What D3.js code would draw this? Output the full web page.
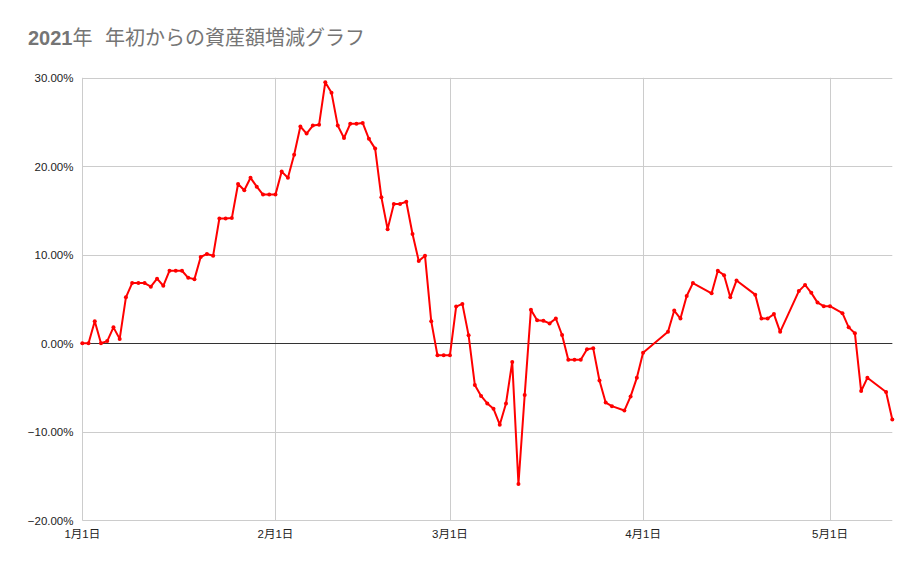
<!DOCTYPE html>
<html>
<head>
<meta charset="utf-8">
<script src="https://cdn.jsdelivr.net/npm/d3@7"></script>
<style>
  html, body { margin: 0; padding: 0; background: #fff; }
  svg { display: block; }
</style>
</head>
<body>
<svg id="chart" width="921" height="569"></svg>
<script>
// ---- data ----
const dates = [
  "2021-01-01","2021-01-02","2021-01-03","2021-01-04","2021-01-05","2021-01-06","2021-01-07","2021-01-08",
  "2021-01-09","2021-01-10","2021-01-11","2021-01-12","2021-01-13","2021-01-14","2021-01-15","2021-01-16",
  "2021-01-17","2021-01-18","2021-01-19","2021-01-20","2021-01-21","2021-01-22","2021-01-23","2021-01-24",
  "2021-01-25","2021-01-26","2021-01-27","2021-01-28","2021-01-29","2021-01-30","2021-01-31",
  "2021-02-01","2021-02-02","2021-02-03","2021-02-04","2021-02-05","2021-02-06","2021-02-07","2021-02-08",
  "2021-02-09","2021-02-10","2021-02-11","2021-02-12","2021-02-13","2021-02-14","2021-02-15","2021-02-16",
  "2021-02-17","2021-02-18","2021-02-19","2021-02-20","2021-02-21","2021-02-22","2021-02-23","2021-02-24",
  "2021-02-25","2021-02-26","2021-02-27","2021-02-28",
  "2021-03-01","2021-03-02","2021-03-03","2021-03-04","2021-03-05","2021-03-06","2021-03-07","2021-03-08",
  "2021-03-09","2021-03-10","2021-03-11","2021-03-12","2021-03-13","2021-03-14","2021-03-15","2021-03-16",
  "2021-03-17","2021-03-18","2021-03-19","2021-03-20","2021-03-21","2021-03-22","2021-03-23","2021-03-24",
  "2021-03-25","2021-03-26","2021-03-27","2021-03-29","2021-03-30","2021-03-31",
  "2021-04-01","2021-04-05","2021-04-06","2021-04-07","2021-04-08","2021-04-09","2021-04-12","2021-04-13",
  "2021-04-14","2021-04-15","2021-04-16","2021-04-19","2021-04-20","2021-04-21","2021-04-22","2021-04-23",
  "2021-04-26","2021-04-27","2021-04-28","2021-04-29","2021-04-30",
  "2021-05-01","2021-05-03","2021-05-04","2021-05-05","2021-05-06","2021-05-07","2021-05-10","2021-05-11"
];
const changePct = [
  0.0, 0.0, 2.5, 0.0, 0.25, 1.8, 0.5, 5.2,
  6.8, 6.8, 6.8, 6.4, 7.3, 6.5, 8.2, 8.2,
  8.2, 7.4, 7.25, 9.75, 10.1, 9.9, 14.1, 14.1,
  14.15, 18.0, 17.3, 18.7, 17.7, 16.8, 16.8,
  16.8, 19.4, 18.7, 21.3, 24.5, 23.7, 24.6, 24.7,
  29.5, 28.3, 24.6, 23.2, 24.8, 24.8, 24.9, 23.1,
  22.0, 16.5, 12.9, 15.75, 15.75, 16.0, 12.35, 9.3,
  9.9, 2.5, -1.36, -1.36,
  -1.36, 4.15, 4.45, 0.9, -4.7, -5.95, -6.8, -7.4,
  -9.2, -6.8, -2.1, -15.9, -5.85, 3.8, 2.6, 2.55,
  2.25, 2.8, 0.94, -1.85, -1.85, -1.85, -0.68, -0.57,
  -4.2, -6.7, -7.1, -7.6, -6.0, -3.9,
  -1.06, 1.3, 3.7, 2.8, 5.35, 6.8, 5.65, 8.2,
  7.7, 5.2, 7.1, 5.5, 2.8, 2.8, 3.3, 1.3,
  5.9, 6.6, 5.7, 4.6, 4.2,
  4.2, 3.4, 1.8, 1.13, -5.4, -3.9, -5.5, -8.6
];
const xTickDates = ["2021-01-01","2021-02-01","2021-03-01","2021-04-01","2021-05-01"];
const xTickLabels = ["1月1日","2月1日","3月1日","4月1日","5月1日"];
const yTicks = [-0.2, -0.1, 0, 0.1, 0.2, 0.3];
const xDomain = ["2021-01-01","2021-05-11"];
const yDomain = [-0.2, 0.3];
const titleYear = "2021";
const titleRest1 = "年";
const titleRest2 = "年初からの資産額増減グラフ";

// ---- drawing ----
(function () {
const parse = d3.timeParse("%Y-%m-%d");
const data = dates.map((d, i) => ({ date: parse(d), value: changePct[i] / 100 }));

const svg = d3.select("#chart");
const plotLeft = 82.3, plotRight = 892.3, plotTop = 77.8, plotBottom = 520.3;

const x = d3.scaleTime().domain(xDomain.map(parse)).range([plotLeft, plotRight]);
const y = d3.scaleLinear().domain(yDomain).range([plotBottom, plotTop]);

const labelFont = "'Liberation Sans', Arial, 'Noto Sans CJK JP', sans-serif";

// horizontal gridlines
svg.append("g")
  .selectAll("line")
  .data(yTicks)
  .join("line")
  .attr("x1", plotLeft).attr("x2", plotRight)
  .attr("y1", d => Math.round(y(d)) + 0.5).attr("y2", d => Math.round(y(d)) + 0.5)
  .attr("stroke", "#cccccc").attr("stroke-width", 1);

// vertical gridlines
svg.append("g")
  .selectAll("line")
  .data(xTickDates.map(parse))
  .join("line")
  .attr("x1", d => Math.round(x(d)) + 0.5).attr("x2", d => Math.round(x(d)) + 0.5)
  .attr("y1", plotTop).attr("y2", plotBottom)
  .attr("stroke", "#cccccc").attr("stroke-width", 1);

// zero line
svg.append("line")
  .attr("x1", plotLeft).attr("x2", plotRight)
  .attr("y1", Math.round(y(0)) + 0.5).attr("y2", Math.round(y(0)) + 0.5)
  .attr("stroke", "#333333").attr("stroke-width", 1);

// y axis labels
const pct = d3.format(".2%");
svg.append("g")
  .selectAll("text")
  .data(yTicks)
  .join("text")
  .attr("x", 73.5)
  .attr("y", d => y(d) + 4.3)
  .attr("text-anchor", "end")
  .attr("font-family", labelFont)
  .attr("font-size", "11.5px")
  .attr("fill", "#222222")
  .text(d => pct(d));

// x axis labels
svg.append("g")
  .selectAll("text")
  .data(xTickDates.map((d, i) => ({ date: parse(d), label: xTickLabels[i] })))
  .join("text")
  .attr("x", d => x(d.date))
  .attr("y", 538)
  .attr("text-anchor", "middle")
  .attr("font-family", labelFont)
  .attr("font-size", "11.5px")
  .attr("fill", "#222222")
  .text(d => d.label);

// line
const line = d3.line().x(d => x(d.date)).y(d => y(d.value));
svg.append("path")
  .datum(data)
  .attr("d", line)
  .attr("fill", "none")
  .attr("stroke", "#ff0000")
  .attr("stroke-width", 2)
  .attr("stroke-linejoin", "round");

svg.append("g")
  .selectAll("circle")
  .data(data)
  .join("circle")
  .attr("cx", d => x(d.date))
  .attr("cy", d => y(d.value))
  .attr("r", 2)
  .attr("fill", "#ff0000");

// title
const t = svg.append("text")
  .attr("x", 28)
  .attr("y", 44.7)
  .attr("font-size", "20px")
  .attr("fill", "#757575");
t.append("tspan")
  .attr("font-family", "'Liberation Sans', Arial, sans-serif")
  .attr("font-weight", "bold")
  .text(titleYear);
t.append("tspan")
  .attr("font-family", "'Noto Sans CJK JP', sans-serif")
  .text(titleRest1);
svg.append("text")
  .attr("x", 105)
  .attr("y", 44.7)
  .attr("font-size", "20px")
  .attr("fill", "#757575")
  .attr("font-family", "'Noto Sans CJK JP', sans-serif")
  .text(titleRest2);
})();
</script>
</body>
</html>
